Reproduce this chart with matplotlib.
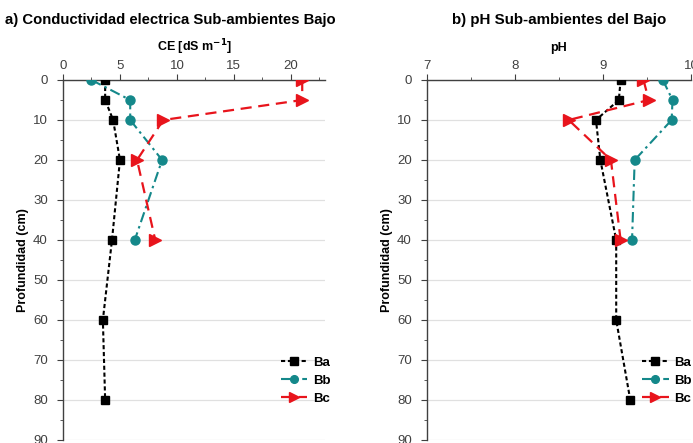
import matplotlib
matplotlib.use("Agg")
import matplotlib.pyplot as plt
from matplotlib.ticker import MultipleLocator

plt.rcParams['font.family'] = ['Liberation Sans', 'DejaVu Sans']

# depths (cm)
depth_ba = [0, 5, 10, 20, 40, 60, 80]
depth_bb = [0, 5, 10, 20, 40]
depth_bc = [0, 5, 10, 20, 40]

# conductividad electrica (dS m-1)
ce_ba = [3.7, 3.7, 4.4, 5.0, 4.3, 3.5, 3.7]
ce_bb = [2.5, 5.9, 5.9, 8.7, 6.3]
ce_bc = [21.0, 21.0, 8.8, 6.5, 8.1]

# pH
ph_ba = [9.2, 9.18, 8.92, 8.97, 9.15, 9.15, 9.31]
ph_bb = [9.68, 9.79, 9.78, 9.36, 9.33]
ph_bc = [9.46, 9.52, 8.61, 9.09, 9.2]

labels = ["Ba", "Bb", "Bc"]

black = "black"
teal = "#14888a"
red = "#e8141c"
grey = "#404040"

fig = plt.figure(figsize=(6.93, 4.43), dpi=100)
ax1 = fig.add_axes([63 / 693, 3 / 443, 262 / 693, 360 / 443])
ax2 = fig.add_axes([427 / 693, 3 / 443, 264 / 693, 360 / 443])


def draw(ax, xa, xb, xc):
    ax.plot(xa, depth_ba, color=black, ls=(0, (2, 1.3)), lw=1.5,
            marker="s", ms=6, label=labels[0], zorder=3)
    ax.plot(xb, depth_bb, color=teal, ls=(0, (5, 2, 1.2, 2)), lw=1.5,
            marker="o", ms=6.5, label=labels[1], zorder=3)
    ax.plot(xc, depth_bc, color=red, ls=(0, (5, 3)), lw=1.6,
            marker=">", ms=8, label=labels[2], zorder=3)
    ax.set_ylim(90, 0)
    ax.yaxis.set_major_locator(MultipleLocator(10))
    ax.yaxis.set_minor_locator(MultipleLocator(5))
    ax.xaxis.tick_top()
    ax.xaxis.set_label_position("top")
    for s in ["bottom", "right"]:
        ax.spines[s].set_visible(False)
    for s in ["top", "left"]:
        ax.spines[s].set_color(grey)
        ax.spines[s].set_linewidth(1.0)
    ax.grid(axis="y", color="#e0e0e0", lw=0.9, zorder=0)
    ax.tick_params(which="major", length=4, color=grey, labelsize=9.5,
                   labelcolor="#404040")
    ax.tick_params(axis="y", which="major", pad=7)
    ax.tick_params(axis="x", which="major", pad=2)
    ax.tick_params(which="minor", length=2.5, color=grey)
    ax.set_ylabel("Profundidad (cm)", fontsize=9, fontweight="bold", labelpad=3)
    ax.patch.set_alpha(0)


def add_legend(ax, x0):
    ax.legend(loc="center left", bbox_to_anchor=(x0, 0.165), frameon=False,
              prop={"weight": "bold", "size": 9.5}, handlelength=2.0,
              handletextpad=0.45, labelspacing=0.45, borderpad=0,
              markerscale=0.85)


draw(ax1, ce_ba, ce_bb, ce_bc)
ax1.set_xlim(0, 23)
ax1.xaxis.set_major_locator(MultipleLocator(5))
ax1.xaxis.set_minor_locator(MultipleLocator(2.5))
ax1.set_xlabel("CE [dS m$^{\\mathbf{-1}}$]", fontsize=9, fontweight="bold", labelpad=6)
add_legend(ax1, 0.805)

draw(ax2, ph_ba, ph_bb, ph_bc)
ax2.set_xlim(7, 10)
ax2.xaxis.set_major_locator(MultipleLocator(1))
ax2.xaxis.set_minor_locator(MultipleLocator(0.5))
ax2.set_xlabel("pH", fontsize=9, fontweight="bold", labelpad=6)
add_legend(ax2, 0.79)

fig.text(5 / 693, 1 - 20 / 443, "a) Conductividad electrica Sub-ambientes Bajo",
         fontsize=10.7, fontweight="bold", ha="left", va="center")
fig.text(559 / 693, 1 - 20 / 443, "b) pH Sub-ambientes del Bajo",
         fontsize=10.9, fontweight="bold", ha="center", va="center")

fig.savefig("out.png", dpi=100)
